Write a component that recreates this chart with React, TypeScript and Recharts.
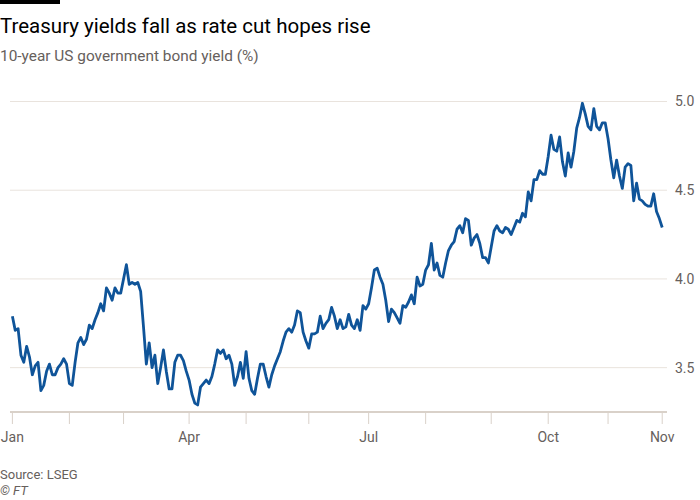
import React from 'react';
import { LineChart, Line, XAxis, YAxis, CartesianGrid } from 'recharts';

// 10-year US Treasury yield (%), one value per trading day, by month (2023)
const jan = [3.79, 3.71, 3.72, 3.57, 3.53, 3.62, 3.56, 3.46, 3.51, 3.53, 3.37, 3.40, 3.48, 3.52, 3.46, 3.46, 3.50, 3.52, 3.55, 3.52];
const feb = [3.41, 3.40, 3.53, 3.64, 3.67, 3.63, 3.66, 3.74, 3.72, 3.77, 3.81, 3.86, 3.82, 3.95, 3.92, 3.88, 3.95, 3.92, 3.92];
const mar = [4.00, 4.08, 3.97, 3.98, 3.97, 3.98, 3.93, 3.73, 3.52, 3.64, 3.50, 3.57, 3.41, 3.50, 3.60, 3.48, 3.38, 3.38, 3.53, 3.57, 3.57, 3.54, 3.48];
const apr = [3.43, 3.35, 3.30, 3.29, 3.39, 3.41, 3.43, 3.41, 3.45, 3.52, 3.60, 3.58, 3.60, 3.55, 3.57, 3.52, 3.40, 3.45, 3.53, 3.44];
const may = [3.59, 3.44, 3.37, 3.35, 3.44, 3.52, 3.52, 3.45, 3.39, 3.46, 3.51, 3.55, 3.59, 3.65, 3.70, 3.72, 3.70, 3.74, 3.82, 3.81, 3.70, 3.65];
const jun = [3.61, 3.69, 3.69, 3.70, 3.79, 3.72, 3.75, 3.77, 3.84, 3.79, 3.72, 3.77, 3.72, 3.73, 3.80, 3.74, 3.72, 3.77, 3.71, 3.85, 3.83];
const jul = [3.86, 3.95, 4.05, 4.06, 4.01, 3.97, 3.88, 3.76, 3.83, 3.81, 3.78, 3.75, 3.85, 3.84, 3.87, 3.91, 3.86, 4.01, 3.96, 3.97];
const aug = [4.05, 4.08, 4.20, 4.05, 4.09, 4.02, 4.01, 4.09, 4.16, 4.19, 4.21, 4.28, 4.30, 4.26, 4.34, 4.33, 4.19, 4.23, 4.25, 4.20, 4.12, 4.12, 4.09];
const sep = [4.18, 4.27, 4.30, 4.27, 4.26, 4.29, 4.28, 4.25, 4.29, 4.33, 4.32, 4.37, 4.35, 4.49, 4.44, 4.56, 4.56, 4.61, 4.59, 4.59];
const oct = [4.69, 4.81, 4.73, 4.72, 4.80, 4.66, 4.58, 4.71, 4.63, 4.72, 4.85, 4.91, 4.99, 4.93, 4.86, 4.84, 4.96, 4.86, 4.84, 4.88, 4.88];
const nov = [4.79, 4.67, 4.57, 4.67, 4.58, 4.51, 4.63, 4.65, 4.64, 4.44, 4.54, 4.45, 4.44, 4.42, 4.41, 4.41, 4.48, 4.38, 4.34, 4.29];

const months = [jan, feb, mar, apr, may, jun, jul, aug, sep, oct, nov];
const monthNames = ['Jan', 'Feb', 'Mar', 'Apr', 'May', 'Jun', 'Jul', 'Aug', 'Sep', 'Oct', 'Nov'];
const labelledMonths = ['Jan', 'Apr', 'Jul', 'Oct'];
const endLabel = 'Nov';
const yTicks = [3.5, 4.0, 4.5, 5.0];

const data = months.flat().map((v, i) => ({ i, v }));
const monthStart: number[] = [];
let count = 0;
months.forEach((m) => {
  monthStart.push(count);
  count += m.length;
});
const lastIdx = data.length - 1;
const xTicks = [...monthStart, lastIdx];

const xLabel = (t: number) => {
  if (t === lastIdx) return endLabel;
  const k = monthStart.indexOf(t);
  return k >= 0 && labelledMonths.includes(monthNames[k]) ? monthNames[k] : '';
};

const grey = '#66605c';
const font = 'Roboto, sans-serif';

const App = () => {
  return (
    <div style={{ position: 'absolute', left: 0, top: 0, width: 700, height: 500, background: '#fff', fontFamily: font }}>
      <LineChart width={700} height={500} data={data} margin={{ top: 101.5, right: 0, bottom: 48, left: 10 }}>
        <CartesianGrid vertical={false} stroke="#e9e3dd" />
        <XAxis
          type="number"
          dataKey="i"
          domain={[-0.84, lastIdx + 1.68]}
          ticks={xTicks}
          interval={0}
          tickFormatter={xLabel}
          height={40}
          axisLine={{ stroke: '#d9d1c9', strokeWidth: 2 }}
          tickLine={{ stroke: '#d9d1c9' }}
          tickSize={12}
          tickMargin={8}
          tick={{ fontSize: 14, fill: grey, fontFamily: font }}
          allowDataOverflow
        />
        <YAxis
          orientation="right"
          domain={[3.25, 5]}
          ticks={yTicks}
          width={33}
          axisLine={false}
          tickLine={false}
          tickMargin={2}
          tickFormatter={(v: number) => v.toFixed(1)}
          tick={{ fontSize: 14, fill: grey, fontFamily: font }}
          allowDataOverflow
        />
        <Line type="linear" dataKey="v" stroke="#0f5499" strokeWidth={2.8} dot={false} strokeLinejoin="round" isAnimationActive={false} />
      </LineChart>
      <svg width={700} height={500} style={{ position: 'absolute', left: 0, top: 0, pointerEvents: 'none' }}>
        <rect x={0} y={0} width={60} height={4} fill="#000" />
        <text x={0} y={33} fontSize={20.5} fill="#000" fontFamily={font}>Treasury yields fall as rate cut hopes rise</text>
        <text x={0} y={61} fontSize={15.4} fill={grey} fontFamily={font}>10-year US government bond yield (%)</text>
        <text x={0} y={479} fontSize={13} fill={grey} fontFamily={font}>Source: LSEG</text>
        <text x={0} y={495} fontSize={13} fill={grey} fontFamily={font} fontStyle="italic">© FT</text>
      </svg>
    </div>
  );
};

export default App;
